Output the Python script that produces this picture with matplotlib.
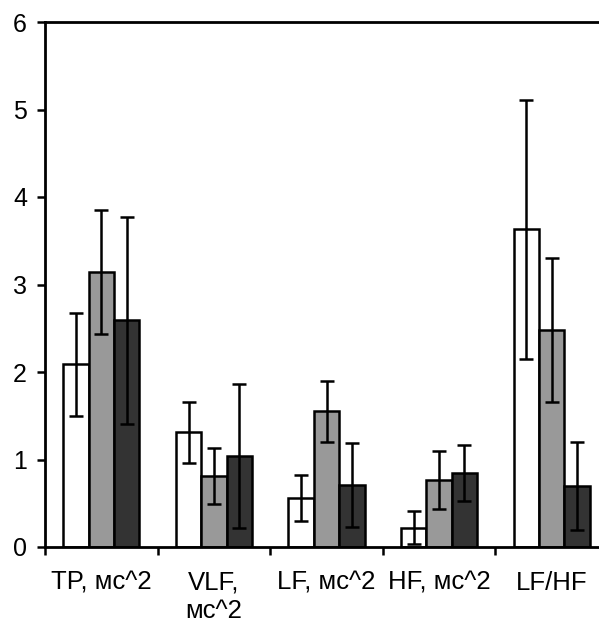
import matplotlib.pyplot as plt
import numpy as np

plt.rcParams['font.family'] = ['Liberation Sans', 'DejaVu Sans']

# group labels
categories = ["TP, мс^2", "VLF,\nмс^2", "LF, мс^2", "HF, мс^2", "LF/HF"]

# bar heights for the three series
white_vals = [2.09, 1.31, 0.56, 0.22, 3.63]
gray_vals = [3.14, 0.81, 1.55, 0.77, 2.48]
dark_vals = [2.59, 1.04, 0.71, 0.85, 0.70]

# error bar half-lengths
white_err = [0.59, 0.35, 0.26, 0.19, 1.48]
gray_err = [0.71, 0.32, 0.35, 0.33, 0.82]
dark_err = [1.18, 0.82, 0.48, 0.32, 0.50]

y_ticks = [0, 1, 2, 3, 4, 5, 6]

fig = plt.figure(figsize=(5.99, 6.24), dpi=100)
# axis runs a little past the right edge, like the source image
ax = fig.add_axes([45 / 599, 77 / 624, 563 / 599, 525 / 624])

x = np.arange(len(categories)) + 0.5
w = 0.225
series = [
    (white_vals, white_err, "white"),
    (gray_vals, gray_err, "#999999"),
    (dark_vals, dark_err, "#333333"),
]
for k, (vals, errs, col) in enumerate(series):
    ax.bar(x + (k - 1) * w, vals, width=w, color=col, edgecolor="black",
           linewidth=1.8, zorder=2)
    ax.errorbar(x + (k - 1) * w, vals, yerr=errs, fmt="none", ecolor="black",
                elinewidth=1.8, capsize=5, capthick=1.8, zorder=3)

ax.set_xlim(0, len(categories))
ax.set_ylim(0, 6)
ax.set_yticks(y_ticks)
ax.set_xticks(x)
ax.set_xticklabels(categories, linespacing=1.22)
ax.set_xticks(np.arange(len(categories) + 1), minor=True)

ax.tick_params(axis="y", direction="out", length=6, width=1.8, labelsize=18, pad=7)
ax.tick_params(axis="x", which="major", length=0, labelsize=18.5, pad=17)
ax.tick_params(axis="x", which="minor", direction="out", length=6, width=1.8)

for s in ax.spines.values():
    s.set_linewidth(2.0)

fig.savefig("out.png", dpi=100)
